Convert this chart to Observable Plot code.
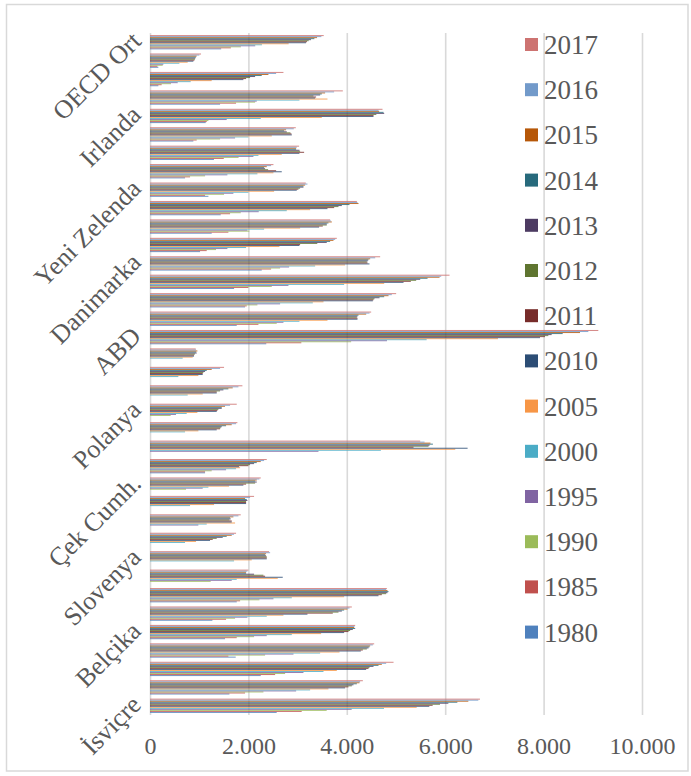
<!DOCTYPE html>
<html>
<head>
<meta charset="utf-8">
<script src="https://cdn.jsdelivr.net/npm/d3@7"></script>
<script src="https://cdn.jsdelivr.net/npm/@observablehq/plot@0.6"></script>
<style>
  html, body { margin: 0; padding: 0; background: #fff; }
  #chart { position: relative; width: 691px; height: 776px; }
</style>
</head>
<body>
<div id="chart"></div>
<script>
// Categories, listed top to bottom as in the chart
const countries = ["OECD Ort","Türkiye","İsrail","Japonya","Irlanda","Kore","İtalya","İspanya","Yeni Zelenda","Birleşik Krallık",
  "Avustralya","İzlanda","Danimarka","Norveç","Kanada","Finlandiya","ABD","Meksika","Şili","Letonya",
  "Polanya","Litvanya","Lüksemburg","Portekiz","Çek Cumh.","Macaristan","Slovakya","Estonya","Slovenya","Yunanistan",
  "İsveç","Fransa","Belçika","Hollanda","Almanya","Avusturya","İsviçre"];
// Category labels visible on the axis
const shownLabels = ["OECD Ort","Irlanda","Yeni Zelenda","Danimarka","ABD","Polanya","Çek Cumh.","Slovenya","Belçika","İsviçre"];
const years = ["1980","1985","1990","1995","2000","2005","2010","2011","2012","2013","2014","2015","2016","2017"];
const colors = ["#4F81BD","#C0504D","#9BBB59","#8064A2","#4BACC6","#F79646","#2C4D75","#772C2A","#5F7530","#4D3B62","#276A7C","#B65708","#729ACA","#CD7371"];
const xTicks = [0, 2000, 4000, 6000, 8000, 10000];

// Series values (same order as countries)
const v2017 = [3531,1037,2712,3919,4726,2963,3031,2509,3166,4204,3661,3797,4678,6088,5003,4495,9112,929,1505,1878,1763,1776,5492,2373,2251,2115,1844,1749,2420,2000,4814,4102,4170,4556,4950,4326,6707];
const v2016 = [3483,1003,2563,3742,4644,2922,2983,2461,3200,4217,3675,3763,4577,5919,4915,4461,8909,936,1424,1797,1627,1749,5580,2319,2224,2034,1797,1708,2441,1980,4800,4055,4156,4529,4800,4271,6673];
const v2015 = [3395,949,2407,3559,4658,2766,2970,2373,3153,4238,3695,3729,4475,5885,4848,4394,8740,963,1254,1681,1525,1661,5700,2251,2170,1932,1695,1661,2359,1953,4827,4014,4150,4475,4712,4258,6470];
const v2014 = [3341,936,2271,3492,4746,2726,2970,2319,3119,4055,3627,3661,4441,5641,4760,4238,8388,936,1153,1593,1458,1546,5750,2170,2136,1966,1627,1559,2339,1953,4848,3946,4170,4461,4644,4204,6247];
const v2013 = [3273,922,2136,3458,4760,2780,3037,2339,3119,3899,3593,3593,4427,5492,4665,4217,8164,949,1119,1492,1458,1458,5682,2115,2170,1980,1641,1478,2359,2115,4827,3899,4122,4441,4543,4136,6064];
const v2012 = [3225,915,2034,3322,4600,2854,3051,2400,3051,3831,3593,3400,4407,5410,4563,4204,8096,915,1085,1424,1390,1437,5661,2034,2136,1953,1614,1356,2373,2305,4800,3831,4068,4407,4461,4102,5894];
const v2011 = [3191,902,1953,3376,4543,2875,3132,2563,3017,3743,3512,3051,4421,5302,4543,4217,8028,895,1071,1356,1370,1424,5356,2000,1953,1953,1661,1275,2373,2339,4712,3715,4034,4326,4441,4034,5745];
const v2010 = [3171,881,1898,3356,4543,2882,3037,2678,2983,3607,3437,3037,4461,5153,4529,4217,7927,895,1071,1356,1356,1356,6455,1810,1898,1953,1661,1220,2373,2698,4644,3200,3946,4285,4394,3966,5677];
const v2005 = [2818,766,1254,3607,3492,2475,2678,2509,2522,3254,3051,2631,3966,4760,3526,3607,7073,868,983,1071,963,983,6204,1831,1607,1302,1729,936,2068,2597,3946,2712,3478,3851,3797,3627,5420];
const v2000 = [2275,597,827,3037,2251,2000,2204,2183,2000,2780,2319,1953,3356,3946,3309,3037,5623,664,576,766,746,712,4692,1749,1187,814,1153,712,1708,1763,2882,2373,2882,3458,3526,3254,4756];
const v1995 = [2139,271,563,2170,1559,1729,2102,1573,1695,2210,1980,1573,2827,2814,2644,2712,4817,0,0,0,529,0,3424,1546,1071,0,983,0,0,1661,2509,1980,2373,2916,3119,2970,4099];
const v1990 = [1847,258,427,2136,1187,1424,1800,1119,1505,1844,2020,1342,2644,2475,2183,2576,4088,0,0,0,420,0,0,1254,732,0,0,0,0,1234,2224,1729,2115,2339,2746,2305,3591];
const v1985 = [1643,150,237,1749,1153,949,1500,814,1119,1627,1593,1153,2461,2000,1966,2204,3076,0,0,0,0,0,0,1119,0,0,0,0,0,0,1831,1546,1763,1593,2543,1932,3083];
const v1980 = [1446,170,170,1424,1132,881,1300,712,1187,1437,1254,1017,2271,1709,1932,1763,2363,0,0,0,0,0,0,1119,0,0,0,0,0,0,1763,1268,1525,1742,2251,1614,2575];

const seriesValues = [v1980,v1985,v1990,v1995,v2000,v2005,v2010,v2011,v2012,v2013,v2014,v2015,v2016,v2017];

const n = countries.length;
const rows = [];
years.forEach((year, j) => {
  countries.forEach((country, i) => {
    rows.push({country, year, j, c: n - 1 - i, value: seriesValues[j][i]});
  });
});
const groupFrac = 0.776;              // share of a category band taken by the 14 bars
const barFrac = groupFrac / years.length;

const labelRows = shownLabels.map(name => ({name, c: n - 1 - countries.indexOf(name)}));

const font = "'Liberation Serif', 'Times New Roman', serif";
const textColor = "#595959";

const plot = Plot.plot({
  width: 691,
  height: 776,
  marginLeft: 150,
  marginRight: 49,
  marginTop: 33,
  marginBottom: 61,
  style: {fontFamily: font, background: "transparent", color: textColor},
  x: {domain: [0, 10000], axis: null},
  y: {domain: [-0.5, n - 0.5], axis: null},
  color: {domain: years, range: colors},
  marks: [
    Plot.ruleX(xTicks, {x: d => d, stroke: "#D9D9D9", strokeWidth: 1.6}),
    Plot.rect(rows, {
      x1: 0,
      x2: "value",
      y1: d => d.c - groupFrac / 2 + d.j * barFrac,
      y2: d => d.c - groupFrac / 2 + (d.j + 1) * barFrac,
      fill: "year",
      fillOpacity: 0.82
    }),
    Plot.text(xTicks, {
      x: d => d,
      frameAnchor: "bottom",
      dy: 31,
      lineAnchor: "middle",
      text: d => d.toLocaleString("de-DE"),
      fontSize: 24,
      fill: textColor
    }),
    Plot.text(labelRows, {
      x: 0,
      y: "c",
      text: "name",
      dx: -8,
      rotate: -45,
      textAnchor: "end",
      lineAnchor: "bottom",
      fontSize: 26,
      fill: textColor
    })
  ]
});

const svg = d3.select(plot);
// legend drawn on top of the plot area
const color = plot.scale("color");
const legendYears = years.slice().reverse();
const lg = svg.append("g").attr("font-family", font).attr("font-size", 27)
  .attr("fill", textColor).attr("text-anchor", "start");
legendYears.forEach((yr, k) => {
  const cy = 44.5 + k * 45.2;
  lg.append("rect").attr("x", 525).attr("y", cy - 6.5).attr("width", 13).attr("height", 13)
    .attr("fill", color.apply(yr));
  lg.append("text").attr("x", 544).attr("y", cy).attr("dy", "0.35em")
    .attr("text-anchor", "start").text(yr);
});
// outer chart border
svg.append("rect").attr("x", 6.5).attr("y", 4.5).attr("width", 681.5).attr("height", 766.5)
  .attr("fill", "none").attr("stroke", "#D9D9D9").attr("stroke-width", 1.5);

document.getElementById("chart").appendChild(plot);
</script>
</body>
</html>
